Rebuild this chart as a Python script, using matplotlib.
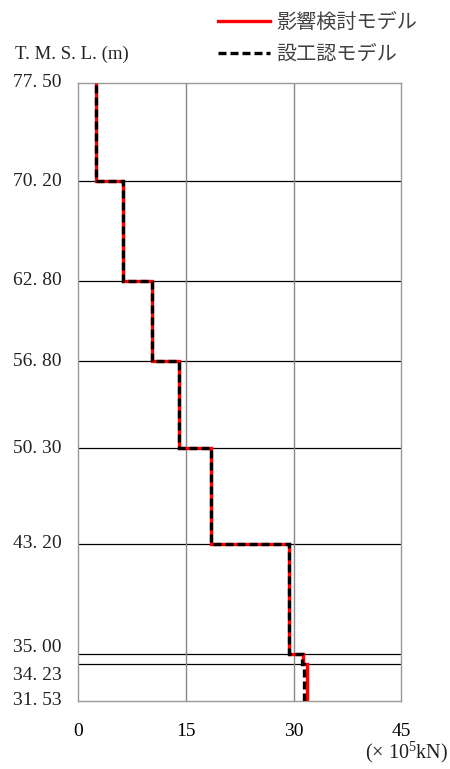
import numpy as np
import matplotlib
matplotlib.use("Agg")
import matplotlib.pyplot as plt
from matplotlib.transforms import offset_copy

plt.rcParams["mathtext.fontset"] = "custom"
plt.rcParams["mathtext.rm"] = "Liberation Serif"
plt.rcParams["mathtext.default"] = "regular"

# elevations (T.M.S.L., m), top to bottom
levels = [77.50, 70.20, 62.80, 56.80, 50.30, 43.20, 35.00, 34.23, 31.53]
level_labels = ["77. 50", "70. 20", "62. 80", "56. 80", "50. 30",
                "43. 20", "35. 00", "34. 23", "31. 53"]
# small nudges (px) so the crowded labels near the base don't collide
label_shift = [0, 0, 0, 0, 0, 0, 7, -11, 0]
# shear force per storey (x10^5 kN), one value per interval
eikyo = [2.5, 6.2, 10.35, 14.1, 18.45, 29.4, 31.3, 31.85]
sekkoukin = [2.5, 6.2, 10.35, 14.1, 18.45, 29.4, 31.2, 31.5]
xticks = [0, 15, 30, 45]

FONT = ["Liberation Serif", "Noto Sans CJK JP", "DejaVu Sans"]
JP = ["Noto Sans CJK JP", "DejaVu Sans"]

fig = plt.figure(figsize=(4.5, 7.69), dpi=100)
ax = fig.add_axes([0.1733, 0.0888, 0.7189, 0.8033])

edges = levels[::-1]
ax.stairs(eikyo[::-1], edges, orientation="horizontal", baseline=None,
          color="#ff0000", lw=2.4, zorder=3, label="影響検討モデル")
ax.stairs(sekkoukin[::-1], edges, orientation="horizontal", baseline=None,
          color="black", lw=2.4, ls=(0, (2.4, 1.2)), zorder=4, label="設工認モデル")

ax.set_xlim(0, 45)
ax.set_ylim(levels[-1], levels[0])
ax.set_yticks(levels)
ax.set_yticklabels([])
ax.set_xticks(xticks)
ax.set_xticklabels([str(v) for v in xticks], family=FONT, fontsize=14)
ax.tick_params(length=0)
ax.tick_params(axis="x", pad=16)

ytr = ax.get_yaxis_transform()
for y, lab, dy in zip(levels, level_labels, label_shift):
    tr = offset_copy(ytr, fig=fig, x=-16, y=dy, units="dots")
    ax.text(0, y, lab, transform=tr, family=FONT, fontsize=14,
            ha="right", va="center", color="#222222")

for y in levels[1:-1]:
    ax.axhline(y, color="black", lw=0.9, zorder=1)
for x in xticks[1:-1]:
    ax.axvline(x, color="#888888", lw=1.0, zorder=1)
for s in ax.spines.values():
    s.set_color("#999999")
    s.set_linewidth(1.0)

fig.text(0.033, 0.929, "T. M. S. L. (m)", family=FONT, fontsize=13.5,
         va="center", color="#222222")
fig.text(0.997, 0.021, "(× 10$^5$kN)", family=FONT, fontsize=14.5,
         ha="right", va="center", color="#222222")

leg = fig.legend(loc="upper left", bbox_to_anchor=(0.466, 0.995), frameon=False,
                 prop={"family": JP, "size": 14.5}, handlelength=2.6,
                 handletextpad=0.3, labelspacing=0.55, borderaxespad=0)
for t in leg.get_texts():
    t.set_color("#404040")

fig.savefig("out.png", dpi=100)
